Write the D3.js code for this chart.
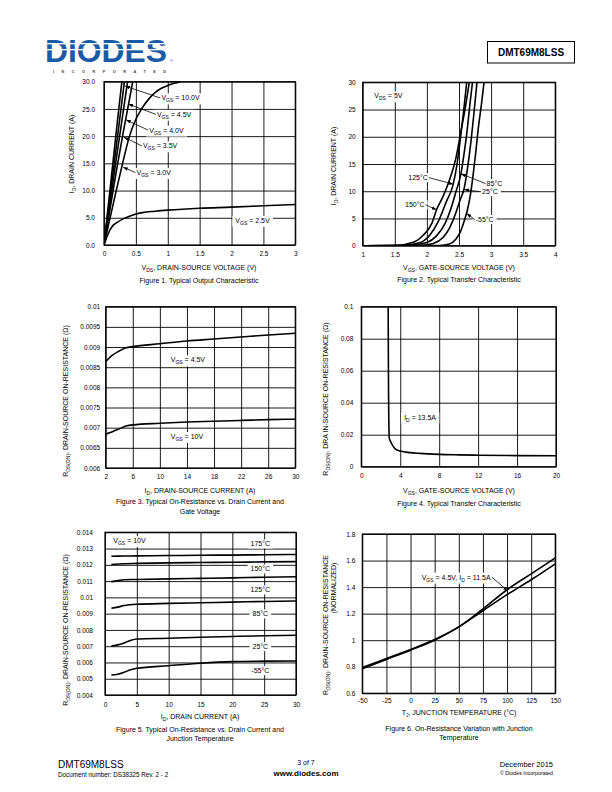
<!DOCTYPE html>
<html>
<head>
<meta charset="utf-8">
<script src="https://cdn.jsdelivr.net/npm/d3@7"></script>
<style>
  body { margin: 0; background: #fff; }
  svg { display: block; }
</style>
</head>
<body>
<script>
const FONT = '"Liberation Sans", Arial, Helvetica, sans-serif';

// ---------------- data ----------------
// Fig 1: output characteristic, [VDS, ID]
const fig1_vgs = ['10.0V', '4.5V', '4.0V', '3.5V', '3.0V', '2.5V'];
const fig1_curves = [
  [[0,0],[0.1,10.8],[0.2,21.6],[0.28,30]],
  [[0,0],[0.1,9.4],[0.2,18.8],[0.32,30]],
  [[0,0],[0.1,8.2],[0.2,16.4],[0.3,24.4],[0.37,30]],
  [[0,0],[0.1,7],[0.2,14],[0.3,20.6],[0.4,26.8],[0.45,30]],
  [[0,0],[0.1,5.2],[0.2,10.4],[0.3,15.4],[0.4,20],[0.5,23.1],[0.6,25.2],[0.7,26.8],[0.8,28],[0.9,28.8],[1.0,29.3],[1.1,29.7],[1.2,30]],
  [[0,0],[0.05,1.6],[0.1,2.9],[0.15,3.7],[0.2,4.1],[0.3,4.8],[0.4,5.3],[0.5,5.7],[0.6,5.95],[0.8,6.2],[1.0,6.4],[1.5,6.75],[2.0,6.95],[2.5,7.2],[3.0,7.45]]
];
// label position [x, y] and arrow tip [x, y] in data units
const fig1_labelPos = [[0.9,27.0],[0.83,24.0],[0.71,21.1],[0.61,18.2],[0.51,13.3],[2.06,4.5]];
const fig1_arrowTip = [[0.33,29.2],[0.38,25.9],[0.345,23.0],[0.314,19.8],[0.30,14.3],null];
const fig1_xticks = [0,0.5,1,1.5,2,2.5,3];
const fig1_xlabels = ['0','0.5','1','1.5','2','2.5','3'];
const fig1_yticks = [0,5,10,15,20,25,30];
const fig1_ylabels = ['0.0','5.0','10.0','15.0','20.0','25.0','30.0'];

// Fig 2: transfer characteristic, [VGS, ID]
const fig2_temps = ['125°C', '85°C', '25°C', '150°C', '-55°C'];
const fig2_curves = [
  [[1,0],[1.6,0.05],[1.9,0.6],[2.05,2],[2.18,4.5],[2.3,8],[2.41,11.3],[2.47,15],[2.52,19.5],[2.57,24.5],[2.62,30]],
  [[1,0],[1.7,0.05],[2.0,0.6],[2.15,1.8],[2.28,4],[2.38,7],[2.45,9.8],[2.53,13.2],[2.58,17],[2.63,21.5],[2.67,26],[2.71,30]],
  [[1,0],[1.9,0.05],[2.1,0.4],[2.25,1.5],[2.35,3.2],[2.45,6],[2.52,8.5],[2.58,10.5],[2.63,14],[2.68,18.5],[2.73,24],[2.78,30]],
  [[1,0],[1.5,0.05],[1.8,0.7],[1.95,2],[2.08,4.2],[2.15,6.6],[2.25,9],[2.35,12],[2.45,16],[2.53,21],[2.6,25.5],[2.66,30]],
  [[1,0],[2.2,0.03],[2.35,0.3],[2.45,1.2],[2.52,2.5],[2.58,4.5],[2.63,6.5],[2.68,9.5],[2.72,13],[2.76,17],[2.8,21.5],[2.85,26],[2.89,30]]
];
const fig2_labelPos = [[1.71,12.5],[2.93,11.4],[2.86,9.9],[1.66,7.5],[2.76,4.8]];
const fig2_arrowTip = [[2.41,11.3],[2.53,13.2],[2.58,10.3],[2.15,6.6],[2.62,5.9]];
const fig2_xticks = [1,1.5,2,2.5,3,3.5,4];
const fig2_xlabels = ['1','1.5','2','2.5','3','3.5','4'];
const fig2_yticks = [0,5,10,15,20,25,30];
const fig2_ylabels = ['0','5','10','15','20','25','30'];

// Fig 3: RDS(on) vs ID, [ID, R]
const fig3_vgs = ['4.5V', '10V'];
const fig3_curves = [
  [[2,0.00864],[3,0.0088],[4,0.0089],[5,0.00898],[6,0.00901],[10,0.00908],[14,0.00915],[18,0.0092],[22,0.00925],[26,0.0093],[30,0.00934]],
  [[2,0.00684],[3,0.0069],[4,0.00697],[5,0.00704],[6,0.00707],[10,0.00711],[14,0.00714],[18,0.00716],[22,0.00718],[26,0.0072],[30,0.00721]]
];
const fig3_labelPos = [[11.6,0.00868],[11.6,0.00678]];
const fig3_xticks = [2,6,10,14,18,22,26,30];
const fig3_xlabels = ['2','6','10','14','18','22','26','30'];
const fig3_yticks = [0.006,0.0065,0.007,0.0075,0.008,0.0085,0.009,0.0095,0.01];
const fig3_ylabels = ['0.006','0.0065','0.007','0.0075','0.008','0.0085','0.009','0.0095','0.01'];

// Fig 4: RDS(on) vs VGS, [VGS, R]
const fig4_curve = [[2.76,0.1],[2.78,0.07],[2.8,0.045],[2.83,0.028],[2.87,0.018],[3.0,0.0158],[3.2,0.0135],[3.5,0.011],[4,0.0098],[5,0.0088],[6,0.0083],[8,0.0077],[10,0.0074],[12,0.0072],[16,0.0069],[20,0.0068]];
const fig4_labelPos = [4.4, 0.031];
const fig4_xticks = [0,4,8,12,16,20];
const fig4_xlabels = ['0','4','8','12','16','20'];
const fig4_yticks = [0,0.02,0.04,0.06,0.08,0.1];
const fig4_ylabels = ['0','0.02','0.04','0.06','0.08','0.1'];

// Fig 5: RDS(on) vs ID at temperatures, [ID, R]
const fig5_temps = ['175°C', '150°C', '125°C', '85°C', '25°C', '-55°C'];
const fig5_curves = [
  [[1,0.01253],[3,0.01254],[5,0.01255],[10,0.01257],[15,0.01259],[20,0.0126],[25,0.01262],[30,0.01264]],
  [[1,0.01202],[3,0.01207],[5,0.01209],[10,0.01212],[15,0.01214],[20,0.01216],[25,0.01218],[30,0.0122]],
  [[1,0.01097],[2,0.01103],[3,0.01108],[5,0.0111],[10,0.01114],[15,0.01117],[20,0.0112],[25,0.01124],[30,0.01127]],
  [[1,0.00933],[2,0.0094],[3,0.0095],[5,0.00958],[10,0.00963],[15,0.00967],[20,0.00971],[25,0.00975],[30,0.00978]],
  [[1,0.00701],[2,0.00708],[3,0.0072],[4,0.00735],[5,0.00744],[10,0.00749],[15,0.00755],[20,0.0076],[25,0.00764],[30,0.00767]],
  [[1,0.00523],[2,0.00528],[3,0.0054],[4,0.00555],[5,0.00564],[10,0.0058],[15,0.00595],[20,0.00605],[25,0.00608],[30,0.00609]]
];
const fig5_labelPos = [[24.4,0.01328],[24.4,0.011746],[24.4,0.010455],[24.4,0.00898],[24.4,0.006971],[24.4,0.005496]];
const fig5_vgsPos = [1.3, 0.01349];
const fig5_xticks = [0,5,10,15,20,25,30];
const fig5_xlabels = ['0','5','10','15','20','25','30'];
const fig5_yticks = [0.004,0.005,0.006,0.007,0.008,0.009,0.01,0.011,0.012,0.013,0.014];
const fig5_ylabels = ['0.004','0.005','0.006','0.007','0.008','0.009','0.01','0.011','0.012','0.013','0.014'];

// Fig 6: normalized RDS(on) vs TJ, [TJ, R]
const fig6_curves = [
  [[-50,0.795],[-25,0.862],[0,0.93],[25,1.005],[50,1.1],[75,1.235],[100,1.38],[125,1.5],[150,1.62]],
  [[-50,0.785],[-25,0.855],[0,0.925],[25,1.0],[50,1.1],[75,1.222],[100,1.343],[125,1.455],[150,1.575]]
];
const fig6_labelPos = [11.5, 1.475];
const fig6_arrowTip = [101, 1.37];
const fig6_xticks = [-50,-25,0,25,50,75,100,125,150];
const fig6_xlabels = ['-50','-25','0','25','50','75','100','125','150'];
const fig6_yticks = [0.6,0.8,1,1.2,1.4,1.6,1.8];
const fig6_ylabels = ['0.6','0.8','1','1.2','1.4','1.6','1.8'];

// ---------------- page ----------------
const svg = d3.select('body').append('svg')
  .attr('width', 612).attr('height', 792)
  .style('font-family', FONT);

svg.append('defs').append('marker')
  .attr('id', 'arr')
  .attr('viewBox', '0 0 8 6')
  .attr('refX', 8).attr('refY', 3)
  .attr('markerWidth', 5).attr('markerHeight', 3.6)
  .attr('markerUnits', 'userSpaceOnUse')
  .attr('orient', 'auto')
  .append('path').attr('d', 'M0,0L8,3L0,6Z').attr('fill', '#000');

// text with "_sub" parts
function rich(t, parts, fs) {
  let sub = false;
  parts.forEach(p => {
    if (p.startsWith('_')) {
      t.append('tspan').attr('font-size', fs * 0.72).attr('dy', fs * 0.28).text(p.slice(1));
      sub = true;
    } else {
      t.append('tspan').attr('dy', sub ? -fs * 0.28 : null).text(p);
      sub = false;
    }
  });
  return t;
}

function txt(parent, x, y, parts, o = {}) {
  const fs = o.size || 7;
  const t = parent.append('text')
    .attr('x', x).attr('y', y + fs * 0.35)
    .attr('font-size', fs)
    .attr('fill', o.fill || '#000')
    .attr('text-anchor', o.anchor || 'start');
  if (o.weight) t.attr('font-weight', o.weight);
  if (o.rotate) t.attr('transform', `rotate(-90,${x},${y})`);
  return rich(t, parts, fs);
}

let clipId = 0;
function panel(p) {
  const [x0, y0, x1, y1] = p.box;
  const g = svg.append('g');
  const x = d3.scaleLinear().domain(p.xDomain).range([x0, x1]);
  const y = d3.scaleLinear().domain(p.yDomain).range([y1, y0]);

  const gx = g.append('g').attr('transform', `translate(0,${y1})`)
    .call(d3.axisBottom(x).tickValues(p.xTicks).tickFormat((d, i) => p.xLabels[i])
      .tickSize(-(y1 - y0)).tickSizeOuter(0).tickPadding(p.xPad));
  const gy = g.append('g').attr('transform', `translate(${x0},0)`)
    .call(d3.axisLeft(y).tickValues(p.yTicks).tickFormat((d, i) => p.yLabels[i])
      .tickSize(-(x1 - x0)).tickSizeOuter(0).tickPadding(p.yPad));
  [gx, gy].forEach(a => {
    a.select('.domain').remove();
    a.selectAll('line').attr('stroke', '#000').attr('stroke-width', 0.9);
    a.selectAll('text').attr('font-size', 6.5).attr('fill', '#000').attr('font-family', FONT);
  });
  g.append('rect').attr('x', x0).attr('y', y0).attr('width', x1 - x0).attr('height', y1 - y0)
    .attr('fill', 'none').attr('stroke', '#000').attr('stroke-width', 1.2);

  const boxes = g.append('g');
  const id = 'clip' + (clipId++);
  svg.select('defs').append('clipPath').attr('id', id)
    .append('rect').attr('x', x0).attr('y', y0).attr('width', x1 - x0).attr('height', y1 - y0);
  const curves = g.append('g').attr('clip-path', `url(#${id})`);
  const notes = g.append('g');

  const line = d3.line().x(d => x(d[0])).y(d => y(d[1])).curve(p.curve || d3.curveMonotoneX);
  curves.selectAll('path').data(p.curves).join('path')
    .attr('d', line).attr('fill', 'none').attr('stroke', '#000').attr('stroke-width', 1.6)
    .attr('stroke-linejoin', 'round');

  (p.notes || []).forEach(n => {
    const px = x(n.at[0]), py = y(n.at[1]);
    const t = txt(notes, px, py, n.parts, { anchor: n.anchor || 'start' });
    const b = t.node().getBBox();
    boxes.append('rect').attr('x', b.x - 3).attr('y', b.y - 1).attr('width', b.width + 6).attr('height', b.height + 2)
      .attr('fill', '#fff');
    if (n.tip) {
      const sx = n.from === 'right' ? b.x + b.width + 1 : b.x - 1;
      notes.append('line')
        .attr('x1', sx).attr('y1', py).attr('x2', x(n.tip[0])).attr('y2', y(n.tip[1]))
        .attr('stroke', '#000').attr('stroke-width', 0.8).attr('marker-end', 'url(#arr)');
    }
  });

  // axis titles and caption
  txt(g, p.xTitle.x, p.xTitle.y, p.xTitle.parts, { anchor: 'middle' });
  p.yTitles.forEach(t => txt(g, t.x, t.y, t.parts, { anchor: 'middle', rotate: true }));
  p.caption.forEach(c => txt(g, c.x, c.y, [c.text], { anchor: 'middle' }));
}

// Figure 1
panel({
  box: [104, 81.7, 295.3, 245],
  xDomain: [0, 3], yDomain: [0, 30],
  xTicks: fig1_xticks, xLabels: fig1_xlabels, yTicks: fig1_yticks, yLabels: fig1_ylabels,
  xPad: 6.5, yPad: 9,
  curves: fig1_curves,
  notes: fig1_vgs.map((v, i) => ({ at: fig1_labelPos[i], parts: ['V', '_GS', ' = ' + v], tip: fig1_arrowTip[i] })),
  xTitle: { x: 199, y: 268, parts: ['V', '_DS', ', DRAIN-SOURCE VOLTAGE (V)'] },
  yTitles: [{ x: 71.5, y: 154, parts: ['I', '_D', ', DRAIN CURRENT (A)'] }],
  caption: [{ x: 199, y: 280.5, text: 'Figure 1. Typical Output Characteristic' }]
});

// Figure 2
panel({
  box: [362.7, 82.3, 555.3, 245.7],
  xDomain: [1, 4], yDomain: [0, 30],
  xTicks: fig2_xticks, xLabels: fig2_xlabels, yTicks: fig2_yticks, yLabels: fig2_ylabels,
  xPad: 6.5, yPad: 7,
  curves: fig2_curves,
  notes: [{ at: [1.18, 27.5], parts: ['V', '_DS', ' = 5V'] }].concat(
    fig2_temps.map((t, i) => ({ at: fig2_labelPos[i], parts: [t], tip: fig2_arrowTip[i], from: (i === 0 || i === 3) ? 'right' : 'left' }))),
  xTitle: { x: 459, y: 268, parts: ['V', '_GS', ', GATE-SOURCE VOLTAGE (V)'] },
  yTitles: [{ x: 334, y: 166, parts: ['I', '_D', ', DRAIN CURRENT (A)'] }],
  caption: [{ x: 459, y: 280, text: 'Figure 2. Typical Transfer Characteristic' }]
});

// Figure 3
panel({
  box: [105.7, 306.7, 295.3, 468],
  xDomain: [2, 30], yDomain: [0.006, 0.01],
  xTicks: fig3_xticks, xLabels: fig3_xlabels, yTicks: fig3_yticks, yLabels: fig3_ylabels,
  xPad: 6.5, yPad: 5.5,
  curves: fig3_curves,
  notes: fig3_vgs.map((v, i) => ({ at: fig3_labelPos[i], parts: ['V', '_GS', ' = ' + v] })),
  xTitle: { x: 200, y: 491, parts: ['I', '_D', ', DRAIN-SOURCE CURRENT (A)'] },
  yTitles: [{ x: 66, y: 401, parts: ['R', '_DS(ON)', ', DRAIN-SOURCE ON-RESISTANCE (Ω)'] }],
  caption: [{ x: 200, y: 502, text: 'Figure 3. Typical On-Resistance vs. Drain Current and' },
            { x: 200, y: 511.5, text: 'Gate Voltage' }]
});

// Figure 4
panel({
  box: [361.3, 306.7, 556, 466.7],
  xDomain: [0, 20], yDomain: [0, 0.1],
  xTicks: fig4_xticks, xLabels: fig4_xlabels, yTicks: fig4_yticks, yLabels: fig4_ylabels,
  xPad: 6.5, yPad: 8,
  curves: [fig4_curve],
  notes: [{ at: fig4_labelPos, parts: ['I', '_D', ' = 13.5A'] }],
  xTitle: { x: 459, y: 491, parts: ['V', '_GS', ', GATE-SOURCE VOLTAGE (V)'] },
  yTitles: [{ x: 326, y: 399, parts: ['R', '_DS(ON)', ', DRA IN-SOURCE ON-RESISTANCE (Ω)'] }],
  caption: [{ x: 459, y: 504, text: 'Figure 4. Typical Transfer Characteristic' }]
});

// Figure 5
panel({
  box: [105, 532.3, 296, 695],
  xDomain: [0, 30], yDomain: [0.004, 0.014],
  xTicks: fig5_xticks, xLabels: fig5_xlabels, yTicks: fig5_yticks, yLabels: fig5_ylabels,
  xPad: 7.5, yPad: 12,
  curves: fig5_curves,
  notes: [{ at: fig5_vgsPos, parts: ['V', '_GS', ' = 10V'] }].concat(
    fig5_temps.map((t, i) => ({ at: fig5_labelPos[i], parts: [t], anchor: 'middle' }))),
  xTitle: { x: 200, y: 717, parts: ['I', '_D', ', DRAIN CURRENT (A)'] },
  yTitles: [{ x: 66, y: 630, parts: ['R', '_DS(ON)', ', DRAIN-SOURCE ON-RESISTANCE (Ω)'] }],
  caption: [{ x: 200, y: 729.5, text: 'Figure 5. Typical On-Resistance vs. Drain Current and' },
            { x: 200, y: 739, text: 'Junction Temperature' }]
});

// Figure 6
panel({
  box: [362.3, 534, 555.3, 693.3],
  xDomain: [-50, 150], yDomain: [0.6, 1.8],
  xTicks: fig6_xticks, xLabels: fig6_xlabels, yTicks: fig6_yticks, yLabels: fig6_ylabels,
  xPad: 5.5, yPad: 7,
  curves: fig6_curves, curve: d3.curveCatmullRom,
  notes: [{ at: fig6_labelPos, parts: ['V', '_GS', ' = 4.5V, I', '_D', ' = 11.5A'], tip: fig6_arrowTip, from: 'right' }],
  xTitle: { x: 459, y: 713, parts: ['T', '_J', ', JUNCTION TEMPERATURE (°C)'] },
  yTitles: [{ x: 326, y: 625, parts: ['R', '_DS(ON)', ', DRAIN-SOURCE ON-RESISTANCE'] },
            { x: 333.5, y: 588, parts: ['(NORMALIZED)'] }],
  caption: [{ x: 459, y: 728.5, text: 'Figure 6. On-Resistance Variation with Junction' },
            { x: 459, y: 738, text: 'Temperature' }]
});

// ---------------- header ----------------
const logo = svg.append('g');
logo.append('text').attr('x', 45).attr('y', 61.5)
  .attr('font-size', 32).attr('font-weight', 'bold').attr('fill', '#1b5aa5')
  .attr('textLength', 122).attr('lengthAdjust', 'spacingAndGlyphs')
  .text('DIODES');
[43, 49].forEach(yy => logo.append('rect').attr('x', 44).attr('y', yy).attr('width', 126).attr('height', 1.3).attr('fill', '#fff'));
logo.append('text').attr('x', 170).attr('y', 62).attr('font-size', 4).attr('fill', '#1b5aa5').text('®');
logo.append('text').attr('x', 53).attr('y', 72.5)
  .attr('font-size', 3.8).attr('font-weight', 'bold').attr('fill', '#444')
  .attr('textLength', 113).attr('lengthAdjust', 'spacing')
  .text('INCORPORATED');

svg.append('rect').attr('x', 487.5).attr('y', 41.5).attr('width', 87).attr('height', 21.5)
  .attr('fill', 'none').attr('stroke', '#000').attr('stroke-width', 1);
txt(svg, 531, 52.5, ['DMT69M8LSS'], { anchor: 'middle', size: 10, weight: 'bold' });

// ---------------- footer ----------------
txt(svg, 58, 764, ['DMT69M8LSS'], { size: 10 });
txt(svg, 58, 774.5, ['Document number: DS38325 Rev. 2 - 2'], { size: 6.3 });
txt(svg, 306, 763, ['3 of 7'], { anchor: 'middle', size: 7 });
txt(svg, 306, 773.5, ['www.diodes.com'], { anchor: 'middle', size: 8, weight: 'bold' });
txt(svg, 553, 764, ['December 2015'], { anchor: 'end', size: 7.5 });
txt(svg, 553, 773, ['© Diodes Incorporated'], { anchor: 'end', size: 5.3 });
</script>
</body>
</html>
